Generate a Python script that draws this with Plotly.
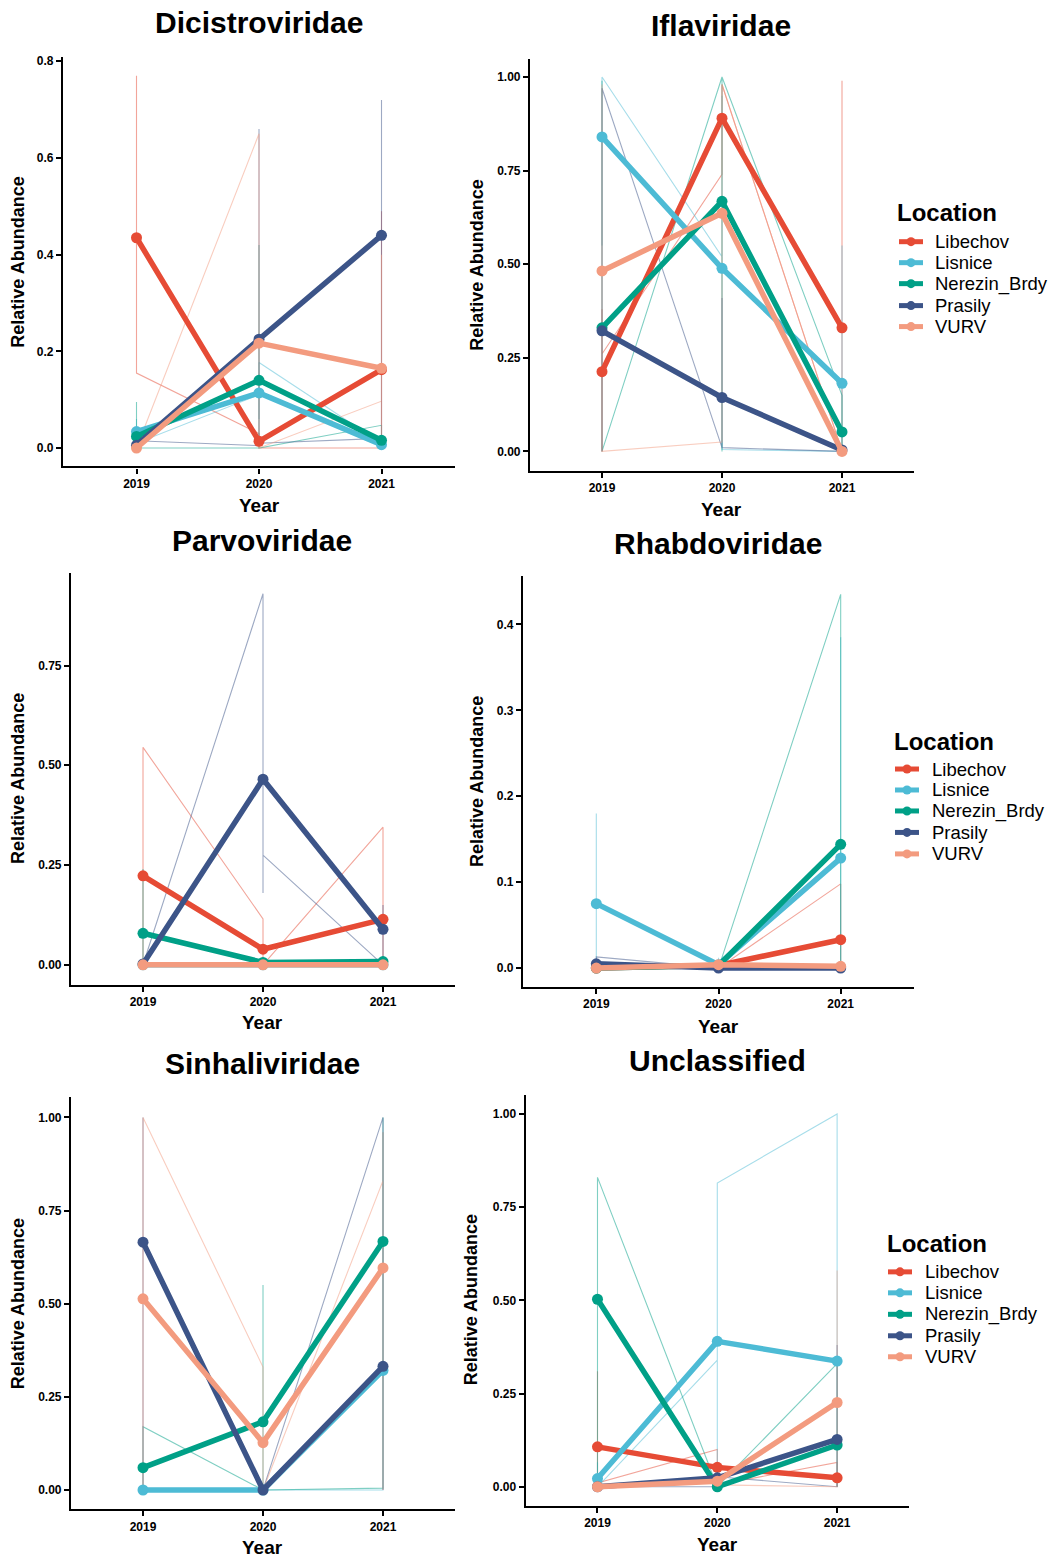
import plotly.graph_objects as go

W, H = 1048, 1557

LOCATIONS = ["Libechov", "Lisnice", "Nerezin_Brdy", "Prasily", "VURV"]
COLORS = ["#E64B35", "#4DBBD5", "#00A087", "#3C5488", "#F39B7F"]
YEARS = [2019, 2020, 2021]

# ---- mean relative abundance (location x year) ----
DICI_MEAN = [[0.435, 0.014, 0.162], [0.034, 0.114, 0.007], [0.024, 0.140, 0.016],
             [0.006, 0.225, 0.440], [0.000, 0.217, 0.165]]
IFLA_MEAN = [[0.213, 0.890, 0.330], [0.840, 0.489, 0.182], [0.330, 0.668, 0.052],
             [0.322, 0.144, 0.004], [0.482, 0.636, 0.000]]
PARV_MEAN = [[0.223, 0.039, 0.114], [0.000, 0.000, 0.000], [0.079, 0.006, 0.008],
             [0.002, 0.465, 0.089], [0.000, 0.000, 0.000]]
RHAB_MEAN = [[0.000, 0.003, 0.033], [0.075, 0.004, 0.128], [0.000, 0.003, 0.144],
             [0.005, 0.000, 0.000], [0.000, 0.004, 0.002]]
SINH_MEAN = [[None, None, None], [0.000, 0.000, 0.321], [0.060, 0.183, 0.667],
             [0.665, 0.000, 0.332], [0.513, 0.127, 0.596]]
UNCL_MEAN = [[0.107, 0.052, 0.024], [0.022, 0.390, 0.337], [0.503, 0.000, 0.112],
             [0.000, 0.024, 0.127], [0.000, 0.015, 0.226]]

# ---- individual samples per location, per year (in data order) ----
DICI_SAMPLES = [
    [[0.77, 0.38, 0.155], [0.03, 0.01, 0.0], [0.0, 0.0, 0.49]],
    [[0.06, 0.03, 0.01], [0.11, 0.06, 0.177], [0.01, 0.0, 0.01]],
    [[0.095, 0.0, 0.0, 0.0], [0.0, 0.42, 0.0], [0.047, 0.0, 0.0]],
    [[0.0, 0.002, 0.015], [0.005, 0.66, 0.01], [0.02, 0.72, 0.58]],
    [[0.0, 0.0, 0.0], [0.65, 0.0, 0.0], [0.097, 0.40, 0.0]],
]
IFLA_SAMPLES = [
    [[0.0, 0.38, 0.26], [0.74, 0.95, 0.98], [0.0, 0.99, 0.0]],
    [[0.55, 0.97, 1.0], [0.52, 0.95, 0.005], [0.0, 0.55, 0.0]],
    [[0.99, 0.0, 0.0], [1.0, 0.0, 1.0], [0.15, 0.0, 0.005]],
    [[0.0, 0.0, 0.97], [0.01, 0.41, 0.01], [0.0, 0.01, 0.0]],
    [[0.98, 0.47, 0.0], [0.025, 0.90, 0.98], [0.0, 0.0, 0.0]],
]
PARV_SAMPLES = [
    [[0.0, 0.12, 0.545], [0.115, 0.0, 0.0], [0.345, 0.0, 0.0]],
    [[0.0, 0.0, 0.0], [0.0, 0.0, 0.0], [0.0, 0.0, 0.0]],
    [[0.0, 0.24, 0.0], [0.0, 0.017, 0.0], [0.0, 0.02, 0.0]],
    [[0.0, 0.0, 0.0], [0.93, 0.18, 0.275], [0.0, 0.15, 0.12]],
    [[0.0, 0.0, 0.0], [0.0, 0.0, 0.0], [0.0, 0.0, 0.0]],
]
RHAB_SAMPLES = [
    [[0.0, 0.0, 0.0], [0.0, 0.008, 0.0], [0.098, 0.0, 0.0]],
    [[0.18, 0.045, 0.0], [0.0, 0.012, 0.0], [0.0, 0.385, 0.0]],
    [[0.0, 0.0, 0.0], [0.0, 0.01, 0.0], [0.435, 0.0, 0.0]],
    [[0.0, 0.002, 0.013], [0.0, 0.0, 0.0], [0.0, 0.0, 0.0]],
    [[0.0, 0.0, 0.0], [0.0, 0.01, 0.0], [0.0, 0.005, 0.0]],
]
SINH_SAMPLES = [
    [[], [], []],
    [[0.0, 0.0, 0.0], [0.0, 0.0, 0.0], [0.0, 0.96, 0.0]],
    [[0.0, 0.01, 0.17], [0.0, 0.55, 0.0], [0.005, 1.0, 1.0]],
    [[1.0, 1.0, 0.0], [0.0, 0.0, 0.0], [1.0, 0.0, 0.0]],
    [[0.0, 0.54, 1.0], [0.33, 0.05, 0.0], [0.83, 0.96, 0.0]],
]
UNCL_SAMPLES = [
    [[0.31, 0.0, 0.01], [0.10, 0.05, 0.005], [0.065, 0.0, 0.005]],
    [[0.066, 0.0, 0.0], [0.34, 0.015, 0.815], [1.0, 0.0, 0.01]],
    [[0.0, 0.68, 0.83], [0.0, 0.0, 0.0], [0.33, 0.0, 0.005]],
    [[0.0, 0.0, 0.0], [0.0, 0.045, 0.027], [0.0, 0.38, 0.0]],
    [[0.0, 0.0, 0.0], [0.01, 0.03, 0.005], [0.0, 0.58, 0.10]],
]

FAMILIES = ["Dicistroviridae", "Iflaviridae", "Parvoviridae",
            "Rhabdoviridae", "Sinhaliviridae", "Unclassified"]

P1 = [0.0, 0.2, 0.4, 0.6, 0.8]
Q1 = [0.0, 0.25, 0.5, 0.75, 1.0]
Q2 = [0.0, 0.25, 0.5, 0.75]
R1 = [0.0, 0.1, 0.2, 0.3, 0.4]

panels = [
    dict(mean=DICI_MEAN, samp=DICI_SAMPLES, box=(63, 455, 55, 465), yr=(-0.038, 0.809),
         ticks=P1, fmt="{:.1f}", title=(259, 21), ytitle=(18, 261), xtitle=(259, 504), legend=None),
    dict(mean=IFLA_MEAN, samp=IFLA_SAMPLES, box=(530, 914, 56.7, 469.3), yr=(-0.0515, 1.049),
         ticks=Q1, fmt="{:.2f}", title=(721, 24), ytitle=(477, 264), xtitle=(721, 508),
         legend=(895, 211, 899, 933, [240, 261, 282, 304, 325])),
    dict(mean=PARV_MEAN, samp=PARV_SAMPLES, box=(71, 455, 571.7, 984), yr=(-0.05, 0.982),
         ticks=Q2, fmt="{:.2f}", title=(262, 539), ytitle=(18, 778), xtitle=(262, 1022), legend=None),
    dict(mean=RHAB_MEAN, samp=RHAB_SAMPLES, box=(523, 914, 575, 986), yr=(-0.0217, 0.456),
         ticks=R1, fmt="{:.1f}", title=(718, 542), ytitle=(477, 781), xtitle=(718, 1026),
         legend=(892, 740, 895, 930, [768, 789, 810, 831.5, 853])),
    dict(mean=SINH_MEAN, samp=SINH_SAMPLES, box=(71, 455, 1096.7, 1509.3), yr=(-0.052, 1.054),
         ticks=Q1, fmt="{:.2f}", title=(262, 1063), ytitle=(18, 1304), xtitle=(262, 1547), legend=None),
    dict(mean=UNCL_MEAN, samp=UNCL_SAMPLES, box=(525.6, 909, 1094, 1505.7), yr=(-0.051, 1.052),
         ticks=Q1, fmt="{:.2f}", title=(717, 1060), ytitle=(471, 1300), xtitle=(717, 1544),
         legend=(885, 1243, 888, 923, [1271.5, 1292.5, 1314, 1335.5, 1356.5])),
]

FONT = "Liberation Sans, Arial, sans-serif"
fig = go.Figure()
annotations = []
shapes = []
layout = {}


def rgba(hexc, a):
    h = hexc.lstrip("#")
    r, g, b = int(h[0:2], 16), int(h[2:4], 16), int(h[4:6], 16)
    return f"rgba({r},{g},{b},{a})"


def px(xp):
    return xp / W


def py(yp):
    return 1 - yp / H


for i, p in enumerate(panels):
    n = i + 1
    xa = "x" if n == 1 else f"x{n}"
    ya = "y" if n == 1 else f"y{n}"
    x0, x1, y0, y1 = p["box"]
    # thin raw-sample lines
    for li, loc in enumerate(LOCATIONS):
        xs, ys = [], []
        for yi, yr in enumerate(YEARS):
            for v in p["samp"][li][yi]:
                xs.append(yr)
                ys.append(v)
        if xs:
            fig.add_trace(go.Scatter(x=xs, y=ys, mode="lines", xaxis=xa, yaxis=ya,
                                     line=dict(color=rgba(COLORS[li], 0.5), width=1.1),
                                     showlegend=False, hoverinfo="skip"))
    # mean lines
    for li, loc in enumerate(LOCATIONS):
        fig.add_trace(go.Scatter(x=YEARS, y=p["mean"][li], mode="lines+markers", name=loc,
                                 xaxis=xa, yaxis=ya, showlegend=False,
                                 line=dict(color=COLORS[li], width=5.5),
                                 marker=dict(color=COLORS[li], size=11)))
    axcommon = dict(showline=True, linecolor="black", linewidth=2.2, ticks="outside",
                    ticklen=5, tickwidth=1.5, tickcolor="black", showgrid=False, zeroline=False,
                    tickfont=dict(family=FONT, size=12, color="black", weight="bold"))
    layout["xaxis" if n == 1 else f"xaxis{n}"] = dict(
        domain=[px(x0), px(x1)], anchor=ya, range=[2018.4, 2021.6],
        tickvals=YEARS, ticktext=[str(y) for y in YEARS], **axcommon)
    layout["yaxis" if n == 1 else f"yaxis{n}"] = dict(
        domain=[py(y1), py(y0)], anchor=xa, range=list(p["yr"]),
        tickvals=p["ticks"], ticktext=[p["fmt"].format(t) for t in p["ticks"]], **axcommon)
    tx, ty = p["title"]
    annotations.append(dict(text=FAMILIES[i], x=px(tx), y=py(ty), xref="paper", yref="paper",
                            showarrow=False, xanchor="center", yanchor="middle",
                            font=dict(family=FONT, size=30, color="black", weight="bold")))
    ax_, ay_ = p["ytitle"]
    annotations.append(dict(text="Relative Abundance", x=px(ax_), y=py(ay_), xref="paper",
                            yref="paper", showarrow=False, textangle=-90, xanchor="center",
                            yanchor="middle",
                            font=dict(family=FONT, size=18, color="black", weight="bold")))
    bx, by = p["xtitle"]
    annotations.append(dict(text="Year", x=px(bx), y=py(by), xref="paper", yref="paper",
                            showarrow=False, xanchor="center", yanchor="middle",
                            font=dict(family=FONT, size=19, color="black", weight="bold")))
    # legend (drawn as key glyphs + text)
    if p["legend"]:
        lx, ly, kx, txx, rows = p["legend"]
        annotations.append(dict(text="Location", x=px(lx), y=py(ly), xref="paper", yref="paper",
                                showarrow=False, xanchor="left", yanchor="middle",
                                font=dict(family=FONT, size=24, color="black", weight="bold")))
        for li, loc in enumerate(LOCATIONS):
            ry = rows[li]
            shapes.append(dict(type="line", xref="paper", yref="paper", x0=px(kx), x1=px(kx + 24),
                               y0=py(ry), y1=py(ry), line=dict(color=COLORS[li], width=5)))
            cx = kx + 12
            r = 4.5
            shapes.append(dict(type="circle", xref="paper", yref="paper",
                               x0=px(cx - r), x1=px(cx + r), y0=py(ry + r), y1=py(ry - r),
                               fillcolor=COLORS[li], line=dict(color=COLORS[li], width=0)))
            annotations.append(dict(text=loc, x=px(txx), y=py(ry), xref="paper", yref="paper",
                                    showarrow=False, xanchor="left", yanchor="middle",
                                    font=dict(family=FONT, size=18.5, color="black")))

fig.update_layout(width=W, height=H, margin=dict(l=0, r=0, t=0, b=0),
                  paper_bgcolor="white", plot_bgcolor="white", showlegend=False,
                  annotations=annotations, shapes=shapes, **layout)

fig.write_html("out.html", config={"displayModeBar": False},
               post_script="document.body.style.margin='0px';")
